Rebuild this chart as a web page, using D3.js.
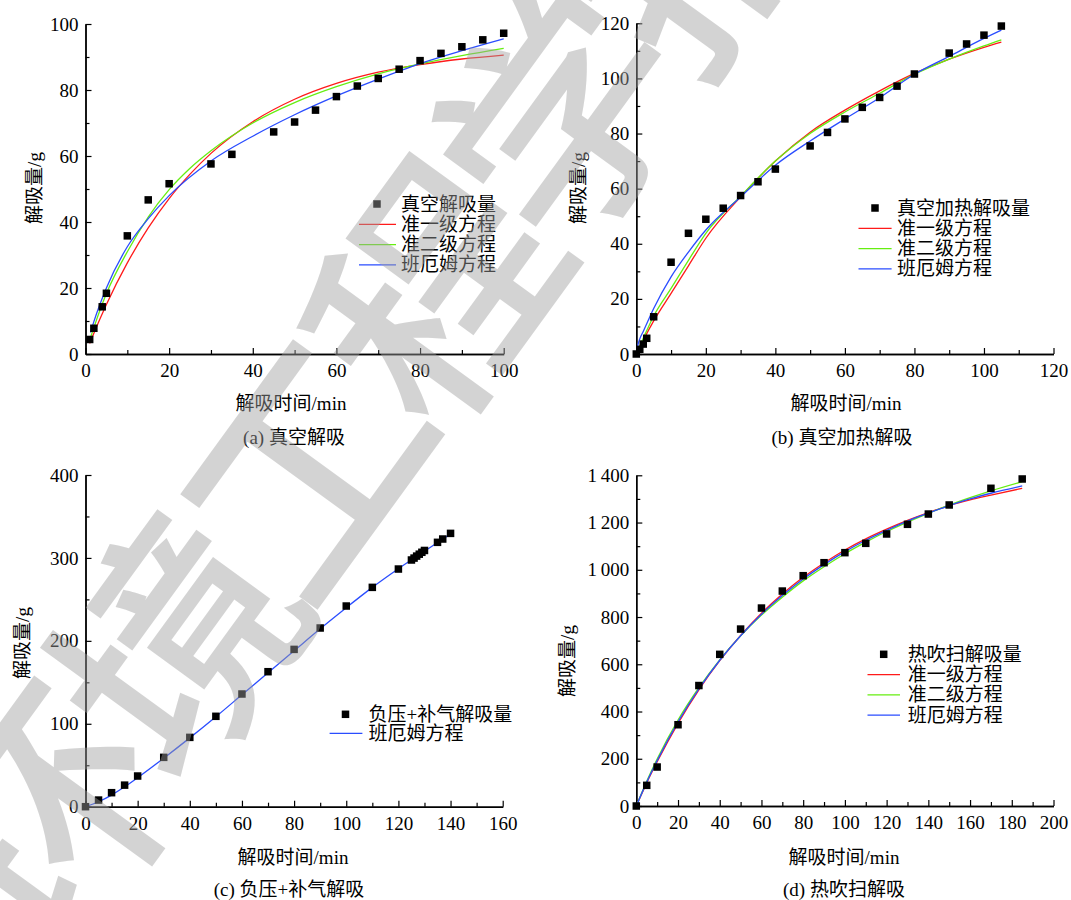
<!DOCTYPE html>
<html><head><meta charset="utf-8">
<script src="https://cdn.jsdelivr.net/npm/d3@7"></script>
<style>
body{margin:0;background:#fff}
svg{display:block}
text{font-family:"Liberation Serif","Noto Sans CJK SC",serif;fill:#000}
</style></head><body>
<svg id="chart" width="1071" height="900"></svg>
<script>
// ---------- (a) 真空解吸 ----------
const aTime = [1,2,4,5,10,15,20,30,35,45,50,55,60,65,70,75,80,85,90,95,100];
const aQ    = [4.4,7.8,14.3,18.4,35.8,46.7,51.6,57.6,60.5,67.3,70.3,73.9,78,81.2,83.5,86.3,88.9,91.1,93.1,95.2,97.2];
const aFirstT  = [1,2,5,10,15,20,25,30,40,50,60,70,80,90,100];
const aFirstQ  = [3.2,6.3,15,27.6,38.2,47.1,54.5,60.8,70.4,77.2,82,85.4,87.7,89.4,90.6];
const aSecondT = [1,2,5,10,15,20,25,30,40,50,60,70,80,90,100];
const aSecondQ = [4.2,8,18.3,31,41.5,49.8,56.3,61.6,70,76.2,81,84.9,87.9,90.4,92.6];
const aBanghamT = [1.2,2,5,10,15,20,30,40,50,60,70,80,90,100];
const aBanghamQ = [6.5,9.8,20,32.5,41,48,58.5,66,72.5,78.2,83.3,88,91.9,95.5];

// ---------- (b) 真空加热解吸 ----------
const bTime = [0,1,2,3,5,10,15,20,25,30,35,40,50,55,60,65,70,75,80,90,95,100,105];
const bQ    = [0,1.7,3.6,5.7,13.5,33.3,43.8,48.9,52.9,57.5,62.5,67.1,75.5,80.4,85.3,89.5,93.1,97.2,101.6,109.2,112.5,115.7,119];
const bFirstT  = [0,2,5,10,15,20,30,40,50,60,70,80,90,100,105];
const bFirstQ  = [0,5,12,22,32,42,57,70,80.5,88.5,95.5,101.8,107,111.3,113.2];
const bSecondT = [0,2,5,10,15,20,30,40,50,60,70,80,90,100,105];
const bSecondQ = [0,5.7,13.8,23.8,34,43.8,57.3,70,80,87.8,94.6,101.5,107,111.8,114];
const bBanghamT = [0,0.5,1,2,5,10,15,20,30,40,50,60,70,80,90,100,105];
const bBanghamQ = [0,3.5,5.5,8.2,16.5,28,37,45,57,68.5,77.3,85.3,93,101.5,108,114.5,117.5];

// ---------- (c) 负压+补气解吸 ----------
const cTime = [0,5,10,15,20,30,40,50,60,70,80,90,100,110,120,125,126,127,128,129,130,135,137,140];
const cQ    = [0,8,16.9,26,37,59.5,83.6,109,135.9,162.8,189.7,215.5,242,264.5,286.6,297.5,299.8,302.2,304.5,306.8,309,318.8,322.8,329.6];
const cBanghamT = [0,5,10,15,20,30,40,50,60,70,80,90,100,110,120,130,140];
const cBanghamQ = [0,6,14,24,35,58.5,83,108.5,135,161.5,188,214.5,240,264.5,287,308,329];

// ---------- (d) 热吹扫解吸 ----------
const dTime = [0,5,10,20,30,40,50,60,70,80,90,100,110,120,130,140,150,170,185];
const dQ    = [0,87.5,165,344,510,642,749,838,910,975,1030,1072.5,1112,1151.6,1192.5,1236,1274.4,1345,1384.4];
const dCurveT   = [0,5,10,20,30,40,50,60,70,80,90,100,110,120,130,140,150,160,170,185];
const dFirstQ   = [0,98,187,350,492,615,722,816,897,968,1029,1084,1131,1172,1209,1242,1272,1296,1316,1345];
const dSecondQ  = [0,105,199,364,501,619,720,808,884,953,1013,1068,1117,1162,1202,1239,1274,1305,1334,1373];
const dBanghamQ = [0,101,192,356,496,617,721,812,891,961,1022,1077,1125,1167,1206,1240,1272,1300,1324,1355];

// ---------- texts ----------
const yTitle = "解吸量/g";
const xTitle = "解吸时间/min";
const subTitles = ["(a) 真空解吸","(b) 真空加热解吸","(c) 负压+补气解吸","(d) 热吹扫解吸"];
const pointNames = ["真空解吸量","真空加热解吸量","负压+补气解吸量","热吹扫解吸量"];
const fitNames = ["准一级方程","准二级方程","班厄姆方程"];
const watermark = "环境工程学报";

const RED="#ff1a1a", GREEN="#66ee11", BLUE="#2a4dff";

const svg = d3.select("#chart");

function fmt(d){
  if (d >= 1000) return Math.floor(d/1000) + "\u2009" + String(d%1000).padStart(3,"0");
  return String(d);
}

function panel(cfg){
  const x = d3.scaleLinear().domain([0,cfg.xmax]).range([cfg.x0,cfg.x1]);
  const y = d3.scaleLinear().domain([0,cfg.ymax]).range([cfg.y0,cfg.y1]);
  const g = svg.append("g");

  const xa = d3.axisBottom(x).tickValues(d3.range(0,cfg.xmax+1e-9,cfg.xstep))
    .tickSizeInner(-6).tickSizeOuter(0).tickPadding(10).tickFormat(fmt);
  const xm = d3.axisBottom(x).tickValues(d3.range(cfg.xstep/2,cfg.xmax,cfg.xstep))
    .tickSizeInner(-4).tickSizeOuter(0).tickFormat("");
  const ya = d3.axisLeft(y).tickValues(d3.range(0,cfg.ymax+1e-9,cfg.ystep))
    .tickSizeInner(-6).tickSizeOuter(0).tickPadding(7).tickFormat(fmt);
  const ym = d3.axisLeft(y).tickValues(d3.range(cfg.ystep/2,cfg.ymax,cfg.ystep))
    .tickSizeInner(-4).tickSizeOuter(0).tickFormat("");

  [[xa,"x"],[xm,"x"],[ya,"y"],[ym,"y"]].forEach(([ax,k])=>{
    const ag = g.append("g")
      .attr("transform", k==="x" ? `translate(0,${cfg.y0})` : `translate(${cfg.x0},0)`)
      .call(ax);
    ag.select(".domain").attr("stroke","#000").attr("stroke-width",1.4);
    ag.selectAll(".tick line").attr("stroke","#000").attr("stroke-width",1.2);
    ag.selectAll("text").style("font-size","19px").attr("fill","#000");
  });

  const line = d3.line().x(d=>x(d[0])).y(d=>y(d[1])).curve(d3.curveMonotoneX);
  cfg.curves.forEach(c=>{
    g.append("path").datum(d3.zip(c.t,c.q))
      .attr("fill","none").attr("stroke",c.color).attr("stroke-width",1.3)
      .attr("d",line);
  });

  const s = 7.5;
  g.selectAll("rect.pt").data(d3.zip(cfg.t,cfg.q)).join("rect")
    .attr("x",d=>x(d[0])-s/2).attr("y",d=>y(d[1])-s/2)
    .attr("width",s).attr("height",s).attr("fill","#000");

  g.append("text").attr("transform",`translate(${cfg.ylab[0]},${cfg.ylab[1]}) rotate(-90)`)
    .attr("text-anchor","middle").attr("dominant-baseline","central")
    .style("font-size","19px").text(yTitle);
  g.append("text").attr("x",cfg.xlab[0]).attr("y",cfg.xlab[1])
    .attr("text-anchor","middle").attr("dominant-baseline","central")
    .style("font-size","19px").text(xTitle);
  g.append("text").attr("x",cfg.sub[0]).attr("y",cfg.sub[1])
    .attr("text-anchor","middle").attr("dominant-baseline","central")
    .style("font-size","19px").text(cfg.subTitle);

  const L = cfg.legend;
  g.append("rect").attr("x",L.mx-s/2).attr("y",L.y0-s/2).attr("width",s).attr("height",s).attr("fill","#000");
  g.append("text").attr("x",L.tx).attr("y",L.y0).attr("dominant-baseline","central")
    .style("font-size","19px").text(cfg.pointName);
  cfg.curves.forEach((c,i)=>{
    const yy = L.y0 + (i+1)*L.dy;
    g.append("line").attr("x1",L.lx0).attr("x2",L.lx1).attr("y1",yy).attr("y2",yy)
      .attr("stroke",c.color).attr("stroke-width",1.3);
    g.append("text").attr("x",L.tx).attr("y",yy).attr("dominant-baseline","central")
      .style("font-size","19px").text(c.name);
  });
}

panel({xmax:100,xstep:20,ymax:100,ystep:20,x0:85.5,x1:503.7,y0:354,y1:24,
  t:aTime,q:aQ,
  curves:[{t:aFirstT,q:aFirstQ,color:RED,name:fitNames[0]},
          {t:aSecondT,q:aSecondQ,color:GREEN,name:fitNames[1]},
          {t:aBanghamT,q:aBanghamQ,color:BLUE,name:fitNames[2]}],
  ylab:[34,188],xlab:[291,403],sub:[294,437],subTitle:subTitles[0],pointName:pointNames[0],
  legend:{mx:377,tx:401,y0:204,dy:20.3,lx0:359,lx1:396}});

panel({xmax:120,xstep:20,ymax:120,ystep:20,x0:636.3,x1:1053.5,y0:354,y1:23.3,
  t:bTime,q:bQ,
  curves:[{t:bFirstT,q:bFirstQ,color:RED,name:fitNames[0]},
          {t:bSecondT,q:bSecondQ,color:GREEN,name:fitNames[1]},
          {t:bBanghamT,q:bBanghamQ,color:BLUE,name:fitNames[2]}],
  ylab:[578,188],xlab:[846,403],sub:[842,437],subTitle:subTitles[1],pointName:pointNames[1],
  legend:{mx:875,tx:897,y0:208,dy:20.3,lx0:858.5,lx1:891.6}});

panel({xmax:160,xstep:20,ymax:400,ystep:100,x0:85.5,x1:502.7,y0:806.7,y1:475,
  t:cTime,q:cQ,
  curves:[{t:cBanghamT,q:cBanghamQ,color:BLUE,name:fitNames[2]}],
  ylab:[22,643],xlab:[293,857],sub:[289,889],subTitle:subTitles[2],pointName:pointNames[2],
  legend:{mx:345.5,tx:368.5,y0:714.3,dy:19,lx0:329.6,lx1:362.4}});

panel({xmax:200,xstep:20,ymax:1400,ystep:200,x0:636.3,x1:1053.5,y0:806,y1:475.3,
  t:dTime,q:dQ,
  curves:[{t:dCurveT,q:dFirstQ,color:RED,name:fitNames[0]},
          {t:dCurveT,q:dSecondQ,color:GREEN,name:fitNames[1]},
          {t:dCurveT,q:dBanghamQ,color:BLUE,name:fitNames[2]}],
  ylab:[567,661],xlab:[844,857],sub:[844,889],subTitle:subTitles[3],pointName:pointNames[3],
  legend:{mx:883.7,tx:907.8,y0:654.3,dy:20.3,lx0:867.5,lx1:900}});

// watermark (on top, translucent)
svg.append("text")
  .attr("transform","translate(352,380) rotate(-54)")
  .attr("text-anchor","middle").attr("dominant-baseline","central")
  .style("font-family","'Noto Sans CJK SC'").style("font-weight","500")
  .style("font-size","240px").style("letter-spacing","-22px")
  .style("fill","#a0a0a0").style("opacity",0.45)
  .text(watermark);
</script>
</body></html>
